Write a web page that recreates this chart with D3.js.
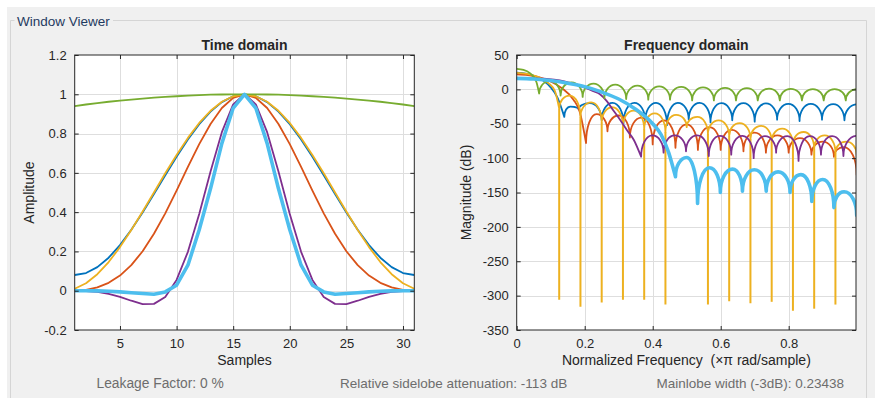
<!DOCTYPE html>
<html><head><meta charset="utf-8">
<script src="https://cdn.jsdelivr.net/npm/d3@7"></script>
<style>body{margin:0;background:#fff}svg{display:block}text{white-space:pre}</style>
</head><body><svg id="c" width="875" height="398"></svg>
<script>
// ---------------- DATA ----------------
const samples = [1,2,3,4,5,6,7,8,9,10,11,12,13,14,15,16,17,18,19,20,21,22,23,24,25,26,27,28,29,30,31];
const timeXTicks = [5,10,15,20,25,30];
const timeYTicks = [-0.2,0,0.2,0.4,0.6,0.8,1,1.2];
const freqXTicks = [0,0.2,0.4,0.6,0.8];
const freqYTicks = [-350,-300,-250,-200,-150,-100,-50,0,50];

// time-domain amplitudes
const hammingT  = [0.080,0.090,0.120,0.168,0.232,0.310,0.398,0.492,0.588,0.682,0.770,0.848,0.912,0.960,0.990,1.000,0.990,0.960,0.912,0.848,0.770,0.682,0.588,0.492,0.398,0.310,0.232,0.168,0.120,0.090,0.080];
const blackmanT = [0.000,0.004,0.017,0.040,0.077,0.130,0.201,0.290,0.394,0.510,0.630,0.746,0.849,0.930,0.982,1.000,0.982,0.930,0.849,0.746,0.630,0.510,0.394,0.290,0.201,0.130,0.077,0.040,0.017,0.004,0.000];
const hanningT  = [0.010,0.038,0.084,0.146,0.222,0.309,0.403,0.500,0.598,0.691,0.778,0.854,0.916,0.962,0.990,1.000,0.990,0.962,0.916,0.854,0.778,0.691,0.598,0.500,0.403,0.309,0.222,0.146,0.084,0.038,0.010];
const flattopT  = [0.000,-0.002,-0.006,-0.016,-0.031,-0.051,-0.068,-0.067,-0.032,0.055,0.198,0.391,0.607,0.807,0.949,1.000,0.949,0.807,0.607,0.391,0.198,0.055,-0.032,-0.067,-0.068,-0.051,-0.031,-0.016,-0.006,-0.002,0.000];
const kaiserT   = [0.940,0.948,0.955,0.962,0.968,0.973,0.978,0.983,0.987,0.990,0.993,0.996,0.998,0.999,1.000,1.000,1.000,0.999,0.998,0.996,0.993,0.990,0.987,0.983,0.978,0.973,0.968,0.962,0.955,0.948,0.940];
const selectedT = [0.000,0.000,-0.001,-0.003,-0.006,-0.010,-0.014,-0.018,-0.006,0.028,0.130,0.310,0.520,0.750,0.930,1.000,0.930,0.750,0.520,0.310,0.130,0.028,-0.006,-0.018,-0.014,-0.010,-0.006,-0.003,-0.001,0.000,0.000];

// frequency-domain magnitudes [normalized freq, dB]: main lobe, nulls (cusps), lobe peaks
const hammingMain  = [[0,24.2],[0.03,22.7],[0.06,18],[0.08,12],[0.1,3],[0.12,-12],[0.14,-40]];
const hammingNulls = [[0.14,-40],[0.182,-29],[0.25,-45],[0.314,-50],[0.378,-46],[0.442,-52],[0.506,-44],[0.57,-48],[0.634,-45],[0.7,-47],[0.766,-44],[0.832,-46],[0.898,-44],[0.964,-45]];
const hammingPeaks = [[0.158,-25],[0.215,-20],[0.282,-19.5],[0.346,-19.5],[0.41,-19.5],[0.474,-19.5],[0.538,-19.5],[0.602,-20],[0.667,-20],[0.733,-20.5],[0.799,-21],[0.865,-21],[0.931,-21.5],[1.0,-21.9]];

const blackmanMain  = [[0,22],[0.033,20.9],[0.067,17.5],[0.1,11.4],[0.133,1.6],[0.167,-15],[0.185,-32],[0.204,-78]];
const blackmanNulls = [[0.204,-78],[0.267,-61],[0.333,-70],[0.4,-80],[0.467,-85],[0.533,-88],[0.6,-88],[0.667,-90],[0.733,-92],[0.8,-92],[0.867,-95],[0.933,-98],[1.0,-124]];
const blackmanPeaks = [[0.235,-36],[0.3,-38],[0.367,-41],[0.433,-45],[0.5,-51],[0.567,-55],[0.633,-59],[0.7,-63],[0.767,-67],[0.833,-71],[0.9,-76],[0.962,-84]];

const hanningMain   = [[0,24.1],[0.031,22.7],[0.0625,18.1],[0.078,14],[0.094,8.7],[0.1125,-2.6],[0.125,-28]];
const hanningNulls  = [[0.125,-28],[0.1875,-40],[0.25,-48],[0.3125,-54],[0.375,-58],[0.4375,-62],[0.5,-55],[0.5625,-65],[0.625,-68],[0.6875,-72],[0.75,-76],[0.8125,-80],[0.875,-86],[0.9375,-92],[1.0,-95]];
const hanningPeaks  = [[0.156,-9],[0.219,-19],[0.281,-26],[0.344,-31],[0.406,-35],[0.469,-37],[0.531,-40],[0.594,-45],[0.656,-49],[0.719,-53],[0.781,-57],[0.844,-62],[0.906,-67],[0.969,-76]];
const hanningSpikes = [[0.125,-306],[0.1875,-316],[0.25,-310],[0.3125,-306],[0.375,-306],[0.4375,-313],[0.5625,-313],[0.625,-308],[0.6875,-311],[0.75,-309],[0.8125,-322],[0.875,-319],[0.9375,-313]];

const flattopMain  = [[0,16.2],[0.05,16],[0.08,15.5],[0.11,14],[0.14,11.5],[0.17,7.5],[0.2,2.5],[0.225,-2.5],[0.245,-7],[0.265,-17],[0.285,-31],[0.305,-45],[0.324,-59],[0.345,-74],[0.366,-98]];
const flattopNulls = [[0.366,-98],[0.432,-92],[0.498,-90],[0.565,-97],[0.631,-95],[0.697,-100],[0.763,-92],[0.829,-104],[0.895,-95],[0.961,-97]];
const flattopPeaks = [[0.399,-67],[0.465,-67],[0.531,-67],[0.598,-67.5],[0.664,-67.5],[0.73,-68],[0.796,-68],[0.862,-68],[0.928,-68],[1.0,-67.6]];

const kaiserMain  = [[0,29.8],[0.02,28.3],[0.039,23.6],[0.05,18.3],[0.058,10.6],[0.066,-6]];
const kaiserNulls = [[0.066,-6],[0.129,-9],[0.194,-11],[0.258,-13],[0.322,-14],[0.387,-15],[0.451,-15],[0.516,-16],[0.58,-16],[0.645,-16],[0.709,-16],[0.774,-16],[0.839,-16],[0.903,-16],[0.968,-16]];
const kaiserPeaks = [[0.097,12],[0.161,10],[0.226,8.5],[0.29,7],[0.355,5.5],[0.419,4.5],[0.484,3.5],[0.548,2.8],[0.613,2.2],[0.677,1.7],[0.742,1.2],[0.806,0.8],[0.871,0.5],[0.935,0.3],[1.0,0.2]];

const selectedMain  = [[0,16],[0.05,15.2],[0.1,13],[0.15,9],[0.2,4],[0.25,-4],[0.3,-14],[0.35,-29],[0.4,-50],[0.425,-66],[0.447,-92],[0.467,-127]];
const selectedNulls = [[0.467,-127],[0.532,-166],[0.599,-150],[0.664,-148],[0.734,-148],[0.804,-150],[0.868,-163],[0.933,-172],[1.0,-183]];
const selectedPeaks = [[0.5,-99],[0.567,-114],[0.635,-116],[0.699,-117],[0.769,-120],[0.836,-124],[0.9,-131],[0.963,-149]];

const statsText = ["Leakage Factor: 0 %", "Relative sidelobe attenuation: -113 dB", "Mainlobe width (-3dB): 0.23438"];

// ---------------- STYLE ----------------
const C = {blue:"#0072BD", orange:"#D95319", yellow:"#EDB120", purple:"#7E2F8E", green:"#77AC30", light:"#4DBEEE"};
const FONT = "'Liberation Sans', Arial, Helvetica, sans-serif";
const svg = d3.select("#c");

svg.append("rect").attr("width",875).attr("height",398).attr("fill","#fff");
svg.append("rect").attr("x",7).attr("y",7).attr("width",868).attr("height",391).attr("fill","#f0f0f0");
// group box
const gb = svg.append("g").attr("fill","none").attr("stroke","#d5d5d5").attr("stroke-width",1);
gb.append("path").attr("d","M14.5,20.5 H10.5 V398 M113,20.5 H866.5 V398");
svg.append("text").attr("x",17).attr("y",26).attr("font-family",FONT).attr("font-size",13.5)
  .attr("fill","#1f3a60").text("Window Viewer");

const timeBox = {l:74.7, r:414.3, t:55, b:330};
const freqBox = {l:516.7, r:856, t:55, b:330};

function axesFrame(g, box, x, y, xt, yt, clipId){
  g.append("rect").attr("x",box.l).attr("y",box.t).attr("width",box.r-box.l).attr("height",box.b-box.t).attr("fill","#fff");
  const grid = g.append("g").attr("stroke","#dedede").attr("stroke-width",1);
  xt.forEach(v=>{ if (x(v)>box.l+0.5 && x(v)<box.r-0.5) grid.append("line").attr("x1",Math.round(x(v))+0.5).attr("x2",Math.round(x(v))+0.5).attr("y1",box.t).attr("y2",box.b); });
  yt.forEach(v=>{ if (y(v)>box.t+0.5 && y(v)<box.b-0.5) grid.append("line").attr("y1",Math.round(y(v))+0.5).attr("y2",Math.round(y(v))+0.5).attr("x1",box.l).attr("x2",box.r); });
  svg.append("clipPath").attr("id",clipId).append("rect").attr("x",box.l).attr("y",box.t).attr("width",box.r-box.l).attr("height",box.b-box.t);
}
function axesDecor(g, box, x, y, xt, yt){
  const fmt = d=>String(d);
  const ax = [
    g.append("g").attr("transform",`translate(0,${box.b})`).call(d3.axisBottom(x).tickValues(xt).tickFormat(fmt).tickSize(-4).tickPadding(9)),
    g.append("g").attr("transform",`translate(${box.l},0)`).call(d3.axisLeft(y).tickValues(yt).tickFormat(fmt).tickSize(-4).tickPadding(8)),
    g.append("g").attr("transform",`translate(0,${box.t})`).call(d3.axisTop(x).tickValues(xt).tickFormat("").tickSize(-4)),
    g.append("g").attr("transform",`translate(${box.r},0)`).call(d3.axisRight(y).tickValues(yt).tickFormat("").tickSize(-4))
  ];
  ax.forEach(a=>{
    a.select(".domain").remove();
    a.selectAll("line").attr("stroke","#262626");
    a.selectAll("text").attr("fill","#262626").attr("font-family",FONT).attr("font-size",13);
  });
  g.append("rect").attr("x",box.l).attr("y",box.t).attr("width",box.r-box.l).attr("height",box.b-box.t)
   .attr("fill","none").attr("stroke","#262626").attr("stroke-width",1);
}

// ---------------- TIME DOMAIN ----------------
const xT = d3.scaleLinear().domain([1,31]).range([timeBox.l,timeBox.r]);
const yT = d3.scaleLinear().domain([-0.2,1.2]).range([timeBox.b,timeBox.t]);
const gT = svg.append("g");
axesFrame(gT, timeBox, xT, yT, timeXTicks, timeYTicks, "clipT");
const tLine = d3.line().x((d,i)=>xT(samples[i])).y(d=>yT(d));
const tSeries = [[hammingT,C.blue,1.8],[blackmanT,C.orange,1.8],[hanningT,C.yellow,1.8],[flattopT,C.purple,1.8],[kaiserT,C.green,1.8],[selectedT,C.light,3.6]];
const tPlot = gT.append("g").attr("clip-path","url(#clipT)");
tSeries.forEach(([v,c,w])=>{
  tPlot.append("path").attr("d",tLine(v)).attr("fill","none").attr("stroke",c).attr("stroke-width",w).attr("stroke-linejoin","round");
});
axesDecor(gT, timeBox, xT, yT, timeXTicks, timeYTicks);

// ---------------- FREQUENCY DOMAIN ----------------
const xF = d3.scaleLinear().domain([0,0.998]).range([freqBox.l,freqBox.r]);
const yF = d3.scaleLinear().domain([-350,50]).range([freqBox.b,freqBox.t]);
const gF = svg.append("g");
axesFrame(gF, freqBox, xF, yF, freqXTicks, freqYTicks, "clipF");
const mainLine = d3.line().x(d=>xF(d[0])).y(d=>yF(d[1])).curve(d3.curveMonotoneX);
function lobePath(main, nulls, peaks){
  let d = mainLine(main);
  const arc = (x0,y0,x1,y1)=>{
    const rx = Math.max(Math.abs(x1-x0),0.01), ry = Math.max(Math.abs(y1-y0),0.01);
    return ` A${rx.toFixed(2)},${ry.toFixed(2)} 0 0 1 ${x1.toFixed(2)},${y1.toFixed(2)}`;
  };
  for (let i=0;i<peaks.length;i++){
    const a = nulls[i], p = peaks[i], b = nulls[i+1];
    const xa=xF(a[0]), ya=yF(a[1]), xp=xF(p[0]), yp=yF(p[1]);
    d += arc(xa,ya,xp,yp);
    if (b){ d += arc(xp,yp,xF(b[0]),yF(b[1])); }
  }
  return d;
}
const fPlot = gF.append("g").attr("clip-path","url(#clipF)");
function drawF(main,nulls,peaks,color,w,spikes){
  fPlot.append("path").attr("d",lobePath(main,nulls,peaks)).attr("fill","none")
    .attr("stroke",color).attr("stroke-width",w).attr("stroke-linejoin","round").attr("stroke-linecap","round");
  if (spikes){
    spikes.forEach(s=>{
      const n = nulls.find(q=>Math.abs(q[0]-s[0])<1e-6);
      fPlot.append("path").attr("d",`M${xF(s[0])},${yF(n[1])} L${xF(s[0])},${yF(s[1])}`)
        .attr("stroke",color).attr("stroke-width",2).attr("fill","none");
    });
  }
}
drawF(hammingMain,hammingNulls,hammingPeaks,C.blue,1.8);
drawF(blackmanMain,blackmanNulls,blackmanPeaks,C.orange,1.8);
drawF(hanningMain,hanningNulls,hanningPeaks,C.yellow,1.8,hanningSpikes);
drawF(flattopMain,flattopNulls,flattopPeaks,C.purple,1.8);
drawF(kaiserMain,kaiserNulls,kaiserPeaks,C.green,1.8);
drawF(selectedMain,selectedNulls,selectedPeaks,C.light,3.6);
axesDecor(gF, freqBox, xF, yF, freqXTicks, freqYTicks);

// ---------------- LABELS ----------------
const lab = (x,y,t,opt={})=>{
  const e = svg.append("text").attr("x",x).attr("y",y).attr("font-family",FONT)
    .attr("font-size",opt.size||14).attr("fill",opt.fill||"#262626")
    .attr("text-anchor",opt.anchor||"middle").attr("font-weight",opt.weight||"normal")
    .attr("xml:space","preserve").text(t);
  if (opt.rot) e.attr("transform",`rotate(-90,${x},${y})`);
  return e;
};
lab((timeBox.l+timeBox.r)/2, 50, "Time domain", {weight:"bold"});
lab((freqBox.l+freqBox.r)/2, 50, "Frequency domain", {weight:"bold"});
lab((timeBox.l+timeBox.r)/2, 365, "Samples");
lab((freqBox.l+freqBox.r)/2, 365, "Normalized Frequency  (\u00D7\u03C0 rad/sample)");
lab(34, (timeBox.t+timeBox.b)/2, "Amplitude", {rot:true});
lab(471, (freqBox.t+freqBox.b)/2, "Magnitude (dB)", {rot:true});
lab(96.5, 388, statsText[0], {anchor:"start", size:13.8, fill:"#6d6d6d"});
lab(340, 388, statsText[1], {anchor:"start", size:13.5, fill:"#6d6d6d"});
lab(656.5, 388, statsText[2], {anchor:"start", size:13.5, fill:"#6d6d6d"});
</script></body></html>
